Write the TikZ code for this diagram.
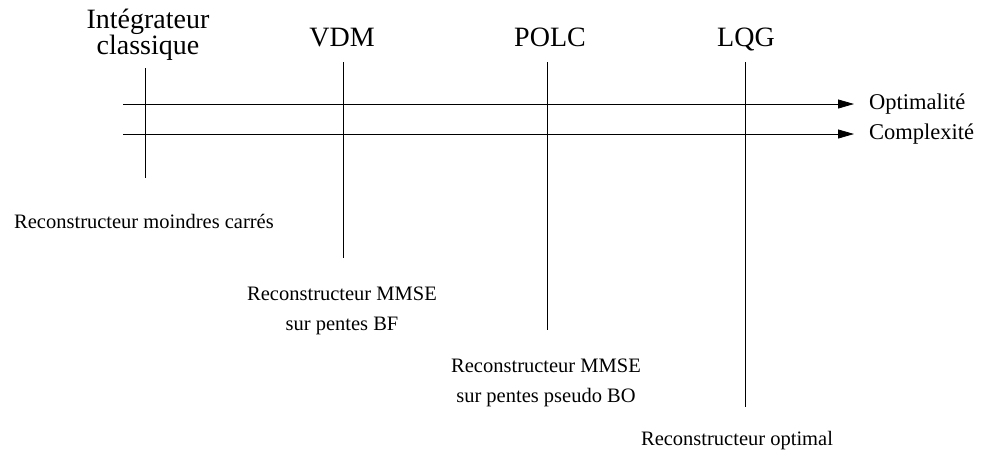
\documentclass[tikz,border=0pt]{standalone}
\usepackage{fontspec}
\setmainfont{Liberation Serif}
\usetikzlibrary{arrows.meta}
\begin{document}
\begin{tikzpicture}[x=1pt,y=-1pt,
  axis/.style={line width=0.8pt,-{Triangle[length=16pt,width=9pt]}},
  mark line/.style={line width=0.8pt},
  toplabel/.style={font=\fontsize{28}{21}\selectfont,align=center,inner sep=0pt},
  sidelabel/.style={font=\fontsize{22.5}{26}\selectfont,anchor=west,inner sep=0pt},
  botlabel/.style={font=\fontsize{20.5}{30}\selectfont,align=center,inner sep=0pt}]
  \useasboundingbox (0,0) rectangle (981,459);

  % horizontal axes
  \coordinate (o1) at (123,104);
  \coordinate (c1) at (123,134);
  \node[sidelabel] (opt) at (869,104) {Optimalité};
  \node[sidelabel] (cpx) at (869,134) {Complexité};
  \draw[axis] (o1) -- ([xshift=-15pt]opt.west);
  \draw[axis] (c1) -- ([xshift=-15pt]cpx.west);

  % method labels on top
  \node[toplabel] (ic) at (148,35) {Intégrateur\\classique};
  \node[toplabel,anchor=base] (vdm) at (342,46) {VDM};
  \node[toplabel,anchor=base] (polc) at (550,46) {POLC};
  \node[toplabel,anchor=base] (lqg) at (746,46) {LQG};

  % vertical markers
  \coordinate (ict) at (145,68);  \coordinate (icb) at (145,178);
  \coordinate (vdt) at (343,62);  \coordinate (vdb) at (343,258);
  \coordinate (pot) at (547,62);  \coordinate (pob) at (547,330);
  \coordinate (lqt) at (745,62);  \coordinate (lqb) at (745,407);
  \draw[mark line] (ict) -- (icb);
  \draw[mark line] (vdt) -- (vdb);
  \draw[mark line] (pot) -- (pob);
  \draw[mark line] (lqt) -- (lqb);

  % reconstructor descriptions
  \node[botlabel] (r1) at (144,221) {Reconstructeur moindres carrés};
  \node[botlabel] (r2) at (342,311) {Reconstructeur MMSE\\sur pentes BF};
  \node[botlabel] (r3) at (546,383) {Reconstructeur MMSE\\sur pentes pseudo BO};
  \node[botlabel] (r4) at (737,441) {Reconstructeur optimal};
\end{tikzpicture}
\end{document}
